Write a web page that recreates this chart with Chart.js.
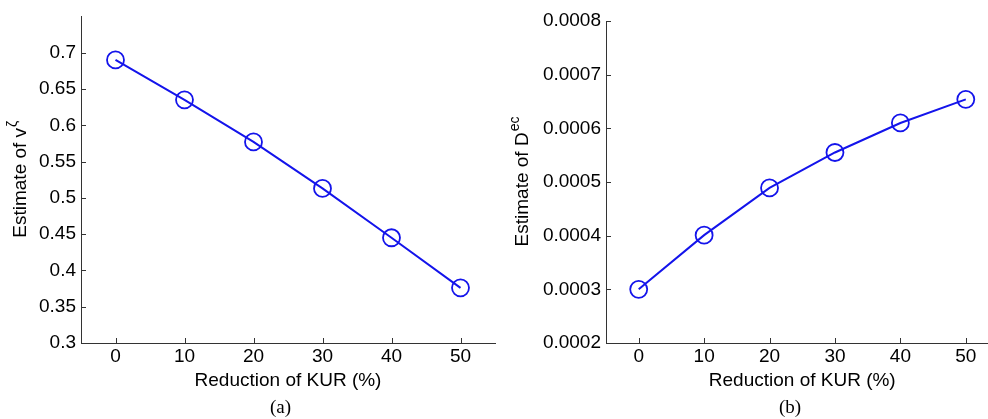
<!DOCTYPE html>
<html>
<head>
<meta charset="utf-8">
<script src="https://cdn.jsdelivr.net/npm/chart.js@4"></script>
<style>
html, body { margin: 0; padding: 0; background: #fff; overflow: hidden; width: 988px; height: 419px; }
#caja_a { position: absolute; left: 0; top: 0; width: 500px; height: 419px; }
#caja_b { position: absolute; left: 500px; top: 0; width: 510px; height: 419px; }
.leyenda { position: absolute; top: 396px; font-family: "Liberation Serif", "DejaVu Serif", serif; font-size: 19px; color: #000; }
</style>
</head>
<body>
<div id="caja_a"><canvas id="graf_a"></canvas></div>
<div id="caja_b"><canvas id="graf_b"></canvas></div>
<div class="leyenda" style="left:270px">(a)</div>
<div class="leyenda" style="left:779px">(b)</div>
<script>
// datos
const reduccion_kur = [0, 10, 20, 30, 40, 50];
const estimado_v = [0.690, 0.635, 0.577, 0.513, 0.445, 0.376];
const estimado_d = [0.000300, 0.000401, 0.000489, 0.000555, 0.000610, 0.000654];

const ticks_x = [0, 10, 20, 30, 40, 50];
const ticks_v = [0.3, 0.35, 0.4, 0.45, 0.5, 0.55, 0.6, 0.65, 0.7];
const ticks_d = [0.0002, 0.0003, 0.0004, 0.0005, 0.0006, 0.0007, 0.0008];

const fuente = '"Liberation Sans", Arial, sans-serif';
const azul = 'rgb(20,20,235)';
const eje = '#333';

// marcas hacia adentro + titulo Y con superindice
const marcas = {
  id: 'marcas',
  afterDraw(chart, args, opts) {
    const {ctx, chartArea: a, scales} = chart;
    ctx.save();
    ctx.strokeStyle = eje;
    ctx.lineWidth = 1;
    ctx.beginPath();
    scales.x.ticks.forEach(t => {
      const px = Math.round(scales.x.getPixelForValue(t.value)) + 0.5;
      ctx.moveTo(px, a.bottom);
      ctx.lineTo(px, a.bottom - 5);
    });
    scales.y.ticks.forEach(t => {
      const py = Math.round(scales.y.getPixelForValue(t.value)) + 0.5;
      ctx.moveTo(a.left, py);
      ctx.lineTo(a.left + 5, py);
    });
    ctx.stroke();

    const cy = (a.top + a.bottom) / 2;
    ctx.translate(opts.x, cy);
    ctx.rotate(-Math.PI / 2);
    ctx.fillStyle = '#000';
    ctx.textBaseline = 'middle';
    ctx.textAlign = 'left';
    ctx.font = '19px ' + fuente;
    const w1 = ctx.measureText(opts.titulo).width;
    ctx.font = '14px ' + fuente;
    const w2 = ctx.measureText(opts.sup).width;
    const x0 = -(w1 + w2) / 2;
    ctx.font = '19px ' + fuente;
    ctx.fillText(opts.titulo, x0, 0);
    ctx.font = '14px ' + fuente;
    ctx.fillText(opts.sup, x0 + w1 + 1, -8);
    ctx.restore();
  }
};

function opciones(ymin, ymax, yticks, ancho_y, arriba, derecha, formato, titulo, sup, tx) {
  return {
    responsive: true,
    maintainAspectRatio: false,
    animation: false,
    layout: { autoPadding: false, padding: { top: arriba, right: derecha, left: 0, bottom: 0 } },
    plugins: {
      legend: { display: false },
      tooltip: { enabled: false },
      marcas: { titulo: titulo, sup: sup, x: tx }
    },
    scales: {
      x: {
        type: 'linear',
        min: -5,
        max: 55,
        afterBuildTicks: s => { s.ticks = ticks_x.map(v => ({ value: v })); },
        afterFit: s => { s.height = 76; },
        grid: { display: false, drawTicks: false },
        border: { display: true, color: eje, width: 1 },
        ticks: { padding: 2, color: '#000', font: { family: fuente, size: 19 }, callback: v => String(v) },
        title: { display: true, text: 'Reduction of KUR (%)', color: '#000', font: { family: fuente, size: 19 }, padding: { top: 0, bottom: 27 } }
      },
      y: {
        type: 'linear',
        min: ymin,
        max: ymax,
        afterBuildTicks: s => { s.ticks = yticks.map(v => ({ value: v })); },
        afterFit: s => { s.width = ancho_y; },
        grid: { display: false, drawTicks: false },
        border: { display: true, color: eje, width: 1 },
        ticks: { padding: 5, color: '#000', font: { family: fuente, size: 19 }, callback: formato }
      }
    }
  };
}

function serie(valores) {
  return {
    data: reduccion_kur.map((x, i) => ({ x: x, y: valores[i] })),
    borderColor: azul,
    borderWidth: 2,
    pointRadius: 8.5,
    pointBorderWidth: 1.8,
    pointBorderColor: azul,
    pointBackgroundColor: 'rgba(0,0,0,0)',
    pointStyle: 'circle',
    tension: 0,
    fill: false
  };
}

const graf_a = new Chart(document.getElementById('graf_a').getContext('2d'), {
  type: 'line',
  data: { datasets: [serie(estimado_v)] },
  options: opciones(0.3, 0.75, ticks_v, 81, 15, 5, v => String(Math.round(v * 100) / 100), 'Estimate of v', 'ζ', 21),
  plugins: [marcas]
});

const graf_b = new Chart(document.getElementById('graf_b').getContext('2d'), {
  type: 'line',
  data: { datasets: [serie(estimado_d)] },
  options: opciones(0.0002, 0.0008, ticks_d, 106, 21, 11.5, v => String(Math.round(v * 10000) / 10000), 'Estimate of D', 'ec', 23),
  plugins: [marcas]
});
</script>
</body>
</html>
